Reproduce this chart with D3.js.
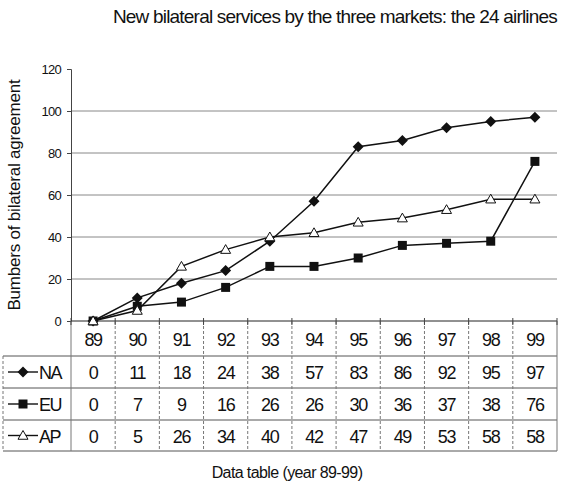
<!DOCTYPE html>
<html><head><meta charset="utf-8">
<script src="https://cdn.jsdelivr.net/npm/d3@7"></script>
<style>body{margin:0;background:#fff}svg{display:block}text{font-family:"Liberation Sans",Arial,sans-serif;fill:#111}</style>
</head><body><svg id="c" width="563" height="487"></svg>
<script>
const years = ["89","90","91","92","93","94","95","96","97","98","99"];
const seriesNames = ["NA","EU","AP"];
const naValues = [0,11,18,24,38,57,83,86,92,95,97];
const euValues = [0,7,9,16,26,26,30,36,37,38,76];
const apValues = [0,5,26,34,40,42,47,49,53,58,58];
const yTicks = [0,20,40,60,80,100,120];
const titleText = "New bilateral services by the three markets: the 24 airlines";
const yLabel = "Bumbers of bilateral agreement";
const xLabel = "Data table (year 89-99)";

const series = [
  {name: seriesNames[0], values: naValues, marker: "diamond"},
  {name: seriesNames[1], values: euValues, marker: "square"},
  {name: seriesNames[2], values: apValues, marker: "triangle"}
];

const svg = d3.select("#c");
const L = 71, R = 557, T = 69, B = 321;
const x = d3.scaleBand().domain(years).range([L, R]);
const y = d3.scaleLinear().domain([0,120]).range([B, T]);

// title
svg.append("text").attr("x", 557).attr("y", 23).attr("text-anchor","end")
  .attr("font-size", 19).attr("letter-spacing", -0.8).text(titleText);

// gridlines
svg.append("g").selectAll("line").data(yTicks.filter(d => d > 0 && d < 120)).join("line")
  .attr("x1", L).attr("x2", R).attr("y1", d => y(d)).attr("y2", d => y(d))
  .attr("stroke", "#888").attr("stroke-width", 1);

// y axis
const yAxis = svg.append("g").attr("transform", `translate(${L},0)`)
  .call(d3.axisLeft(y).tickValues(yTicks).tickSize(4).tickPadding(6));
yAxis.select(".domain").attr("stroke","#444");
yAxis.selectAll(".tick line").attr("stroke","#444");
yAxis.selectAll("text").attr("font-size", 13).attr("letter-spacing", -0.7)
  .style("font-family", '"Liberation Sans",Arial,sans-serif').attr("fill","#111");

// y label
svg.append("text").attr("transform", `translate(20,${(T+B)/2}) rotate(-90)`)
  .attr("text-anchor","middle").attr("font-size", 17).attr("letter-spacing", -0.2).text(yLabel);

// table
const rowsY = [B, 356, 388, 420, 451];
const tableLeft = 3;
const tg = svg.append("g");
tg.selectAll("line.h").data(rowsY).join("line").attr("class","h")
  .attr("x1", (d,i) => i === 0 ? L : tableLeft).attr("x2", R)
  .attr("y1", d => d).attr("y2", d => d)
  .attr("stroke", (d,i) => i === 0 ? "#222" : "#555").attr("stroke-width", 1);
const vx = years.map(d => x(d)).concat([R]);
tg.selectAll("line.v").data(vx).join("line").attr("class","v")
  .attr("x1", d => d).attr("x2", d => d).attr("y1", B).attr("y2", rowsY[4])
  .attr("stroke", "#777").attr("stroke-width", 1)
  .attr("stroke-dasharray", (d,i) => (i === 0 || i === vx.length - 1) ? null : "3,2");
tg.append("line").attr("x1", tableLeft).attr("x2", tableLeft).attr("y1", rowsY[1]).attr("y2", rowsY[4])
  .attr("stroke","#777").attr("stroke-dasharray","3,2");
tg.selectAll("line.t").data(vx).join("line").attr("class","t")
  .attr("x1", d => d).attr("x2", d => d).attr("y1", B - 3).attr("y2", B + 4).attr("stroke","#444");

tg.selectAll("text.yr").data(years).join("text").attr("class","yr")
  .attr("x", d => x(d) + x.bandwidth()/2).attr("y", (rowsY[0]+rowsY[1])/2 + 7)
  .attr("text-anchor","middle").attr("font-size", 18).attr("letter-spacing", -1.3).text(d => d);

function drawMarker(g, type, cx, cy, size) {
  const p = g.append("path").attr("transform", `translate(${cx},${cy})`);
  if (type === "diamond") {
    const h = size*0.55;
    p.attr("d", `M0,${-h}L${h},0L0,${h}L${-h},0Z`).attr("fill","#111");
  } else if (type === "square") {
    const h = size*0.45;
    p.attr("d", `M${-h},${-h}H${h}V${h}H${-h}Z`).attr("fill","#111");
  } else {
    const h = size*0.5;
    p.attr("d", `M0,${-h}L${h},${h*0.75}L${-h},${h*0.75}Z`).attr("fill","#fff").attr("stroke","#111").attr("stroke-width",1);
  }
}

series.forEach((s, i) => {
  const cy = (rowsY[i+1] + rowsY[i+2]) / 2;
  const g = tg.append("g");
  g.append("line").attr("x1", 8).attr("x2", 38).attr("y1", cy).attr("y2", cy).attr("stroke","#111").attr("stroke-width",1.4);
  drawMarker(g, s.marker, 23, cy, 10);
  g.append("text").attr("x", 39).attr("y", cy + 7).attr("font-size", 18).attr("letter-spacing", -1.6).text(s.name);
  g.selectAll("text.v").data(s.values).join("text").attr("class","v")
    .attr("x", (d,j) => x(years[j]) + x.bandwidth()/2).attr("y", cy + 7)
    .attr("text-anchor","middle").attr("font-size", 18).attr("letter-spacing", -1.3).text(d => d);
});

const line = d3.line().x((d,j) => x(years[j]) + x.bandwidth()/2).y(d => y(d));
const lg = svg.append("g");
series.forEach(s => {
  lg.append("path").attr("d", line(s.values)).attr("fill","none").attr("stroke","#111").attr("stroke-width",1.5);
});
series.forEach(s => {
  s.values.forEach((v,j) => drawMarker(lg, s.marker, x(years[j]) + x.bandwidth()/2, y(v), 10));
});

svg.append("text").attr("x", 287).attr("y", 478).attr("text-anchor","middle")
  .attr("font-size", 16).attr("letter-spacing", -0.6).text(xLabel);
</script></body></html>
